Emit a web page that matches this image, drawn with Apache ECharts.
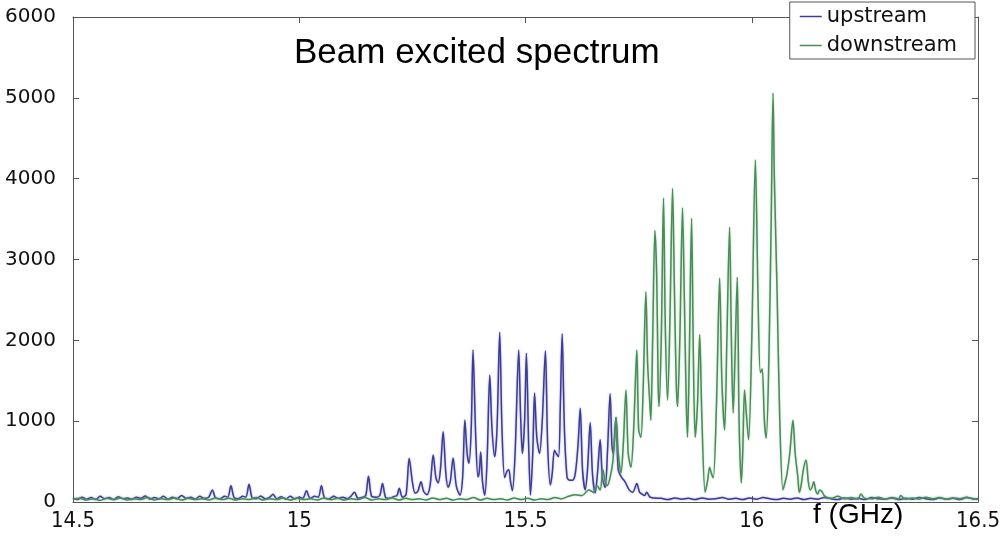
<!DOCTYPE html>
<html>
<head>
<meta charset="utf-8">
<script src="https://cdn.jsdelivr.net/npm/echarts@6/dist/echarts.min.js"></script>
<style>
html,body{margin:0;padding:0;background:#fff;}
#chart{width:1004px;height:537px;}
</style>
</head>
<body>
<div id="chart"></div>
<script>
// ---------- DATA ----------
const xTicks = [14.5, 15, 15.5, 16, 16.5];
const yTicks = [0, 1000, 2000, 3000, 4000, 5000, 6000];
const seriesNames = ['upstream', 'downstream'];

const upFreq = [
14.500,14.510,14.520,14.530,14.540,14.550,14.560,14.570,14.580,14.590,
14.600,14.610,14.620,14.630,14.640,14.650,14.660,14.670,14.680,14.690,
14.700,14.710,14.720,14.730,14.740,14.750,14.760,14.770,14.780,14.790,
14.800,14.808,14.815,14.825,14.835,14.842,14.849,14.856,14.865,14.875,
14.882,14.889,14.896,14.905,14.915,14.925,14.935,14.942,14.950,14.960,
14.970,14.980,14.990,15.000,15.008,15.016,15.024,15.034,15.042,15.049,
15.056,15.066,15.076,15.086,15.096,15.106,15.114,15.122,15.130,15.140,
15.147,15.153,15.160,15.170,15.178,15.184,15.191,15.200,15.210,15.216,
15.221,15.228,15.236,15.243,15.250,15.256,15.262,15.269,15.275,15.282,
15.289,15.296,15.302,15.307,15.312,15.318,15.324,15.329,15.334,15.340,
15.347,15.355,15.361,15.366,15.371,15.375,15.380,15.384,15.390,15.395,
15.398,15.401,15.405,15.410,15.415,15.421,15.426,15.432,15.437,15.443,
15.448,15.454,15.459,15.463,15.467,15.471,15.477,15.485,15.489,15.493,
15.498,15.502,15.507,15.511,15.516,15.520,15.525,15.531,15.537,15.544,
15.549,15.555,15.559,15.564,15.568,15.573,15.577,15.581,15.586,15.592,
15.598,15.604,15.610,15.616,15.621,15.626,15.632,15.637,15.643,15.648,
15.654,15.659,15.665,15.670,15.676,15.681,15.687,15.691,15.694,15.700,
15.705,15.713,15.720,15.729,15.737,15.746,15.752,15.757,15.763,15.768,
15.775,15.785,15.800,15.815,15.830,15.845,15.860,15.875,15.890,15.905,
15.920,15.935,15.950,15.965,15.980,15.995,16.010,16.025,16.040,16.055,
16.070,16.085,16.100,16.115,16.130,16.145,16.160,16.175,16.190,16.205,
16.220,16.235,16.250,16.265,16.280,16.295,16.310,16.325,16.340,16.355,
16.370,16.385,16.400,16.415,16.430,16.445,16.460,16.475,16.490,16.500
];
const upVal = [
50,30,60,35,55,30,70,40,55,30,
65,40,50,30,60,45,75,35,55,40,
70,35,60,40,80,45,60,35,70,45,
60,150,50,40,70,60,200,55,40,70,
60,220,50,40,75,40,60,95,40,65,
35,70,40,60,45,140,45,70,60,200,
50,40,70,45,60,40,70,120,45,60,
80,320,70,60,80,230,55,45,70,80,
170,60,90,540,250,110,130,250,130,90,
200,580,300,235,400,870,350,180,260,545,
200,85,300,1015,600,480,900,1880,800,310,
380,620,250,85,500,1570,900,560,900,2100,
900,300,380,400,250,140,600,1880,1100,600,
1000,1840,700,85,600,1350,800,600,1000,1870,
700,210,350,640,600,560,1200,2080,900,300,
270,270,350,700,1160,400,150,400,980,350,
110,350,770,300,180,600,1340,700,600,1050,
400,300,250,150,120,230,120,100,80,120,
60,50,45,30,50,35,45,30,50,35,
40,55,35,45,30,50,35,55,40,30,
45,35,50,30,45,35,55,40,30,50,
35,45,30,55,40,35,50,30,45,35,
55,40,30,50,35,45,30,55,40,35
];

const downFreq = [
14.500,14.515,14.530,14.545,14.560,14.575,14.590,14.605,14.620,14.635,
14.650,14.665,14.680,14.695,14.710,14.725,14.740,14.755,14.770,14.785,
14.800,14.815,14.830,14.845,14.860,14.875,14.890,14.905,14.920,14.935,
14.950,14.965,14.980,14.995,15.010,15.025,15.040,15.055,15.070,15.085,
15.100,15.115,15.130,15.145,15.160,15.175,15.190,15.205,15.220,15.235,
15.250,15.265,15.280,15.295,15.310,15.325,15.340,15.355,15.370,15.385,
15.400,15.415,15.430,15.445,15.460,15.475,15.490,15.505,15.520,15.535,
15.550,15.565,15.580,15.595,15.610,15.625,15.640,15.650,15.658,15.665,
15.671,15.676,15.680,15.686,15.693,15.700,15.705,15.711,15.716,15.722,
15.727,15.733,15.739,15.746,15.750,15.755,15.760,15.766,15.770,15.775,
15.777,15.781,15.786,15.790,15.793,15.795,15.800,15.805,15.809,15.814,
15.819,15.825,15.829,15.833,15.836,15.841,15.847,15.851,15.855,15.858,
15.862,15.867,15.871,15.875,15.880,15.885,15.890,15.897,15.902,15.907,
15.911,15.915,15.922,15.929,15.934,15.940,15.945,15.951,15.955,15.959,
15.963,15.968,15.972,15.977,15.980,15.984,15.988,15.993,16.000,16.008,
16.014,16.019,16.023,16.028,16.032,16.038,16.043,16.047,16.050,16.056,
16.062,16.069,16.074,16.078,16.084,16.091,16.096,16.102,16.105,16.109,
16.114,16.120,16.125,16.129,16.133,16.137,16.142,16.146,16.150,16.155,
16.160,16.165,16.175,16.190,16.205,16.220,16.235,16.241,16.250,16.265,
16.280,16.295,16.310,16.325,16.329,16.340,16.355,16.370,16.385,16.400,
16.415,16.430,16.445,16.460,16.475,16.490,16.500
];
const downVal = [
30,45,25,40,20,45,30,50,25,40,
30,55,25,40,30,50,25,45,30,40,
25,50,30,45,25,40,30,55,25,40,
30,50,25,45,30,40,25,50,30,45,
25,40,30,55,25,40,30,50,25,45,
30,40,25,50,30,45,25,40,30,55,
25,45,30,40,25,50,30,45,25,40,
30,55,40,70,90,80,150,120,200,150,
400,250,200,280,500,1040,600,360,700,1385,
600,430,900,1880,900,800,1400,2600,1700,1200,
1010,2000,3360,2780,1500,1180,2000,3760,2160,1260,
2200,3880,2660,1500,1180,2000,3640,2540,1300,800,
1800,3510,1800,800,1200,2070,1000,120,250,430,
350,300,1200,2770,1500,890,2000,3400,2000,1100,
1800,2780,1000,235,600,1385,1100,770,2000,4230,
2500,1600,1650,1000,790,1800,3500,5060,4000,2600,
1000,150,250,350,600,1010,600,300,120,200,
400,520,250,150,180,250,130,100,150,130,
80,60,45,70,40,55,35,100,45,40,
60,35,55,40,80,35,50,35,60,40,
55,35,50,40,60,35,45
];

// ---------- CHART ----------
const pairs = (fs, vs) => fs.map((f, i) => [f, vs[i]]);
const axisCol = '#555';
const chart = echarts.init(document.getElementById('chart'), null, {renderer: 'canvas'});
const baseX = {
  type: 'value', min: xTicks[0], max: xTicks[xTicks.length - 1], interval: 0.5,
  axisLine: {show: true, onZero: false, lineStyle: {color: axisCol, width: 1}},
  axisTick: {show: true, inside: true, length: 6, lineStyle: {color: axisCol}},
  splitLine: {show: false}
};
const baseY = {
  type: 'value', min: yTicks[0], max: yTicks[yTicks.length - 1], interval: 1000,
  axisLine: {show: true, onZero: false, lineStyle: {color: axisCol, width: 1}},
  axisTick: {show: true, inside: true, length: 6, lineStyle: {color: axisCol}},
  splitLine: {show: false}
};
chart.setOption({
  animation: false,
  backgroundColor: '#fff',
  title: {
    text: 'Beam excited spectrum', left: 289, top: 31,
    textStyle: {fontFamily: 'Liberation Sans, Arial', fontSize: 35, fontWeight: 'normal', color: '#000'}
  },
  legend: {
    data: seriesNames, orient: 'vertical', right: 29, top: 2,
    backgroundColor: '#fff', borderColor: '#555', borderWidth: 1,
    padding: [4, 18, 3, 10], itemGap: 8, itemWidth: 22, itemHeight: 1.5, icon: 'rect',
    textStyle: {fontFamily: 'DejaVu Sans, Liberation Sans, Arial', fontSize: 21, color: '#111'}
  },
  grid: {left: 73, right: 26, top: 17, bottom: 35, containLabel: false},
  xAxis: [
    Object.assign({}, baseX, {position: 'bottom',
      axisLabel: {show: true, margin: 8, color: '#111', fontSize: 22,
        fontFamily: 'Liberation Sans Narrow, DejaVu Sans Condensed, Liberation Sans, Arial',
        formatter: v => String(v)}}),
    Object.assign({}, baseX, {position: 'top', axisLabel: {show: false}})
  ],
  yAxis: [
    Object.assign({}, baseY, {position: 'left',
      axisLabel: {show: true, margin: 17, color: '#111', fontSize: 20,
        fontFamily: 'DejaVu Sans, Liberation Sans, Arial',
        formatter: v => String(v)}}),
    Object.assign({}, baseY, {position: 'right', axisLabel: {show: false}})
  ],
  graphic: [{
    type: 'text', left: 813, top: 501,
    style: {text: 'f (GHz)', fontFamily: 'Liberation Sans, Arial', fontSize: 28, fill: '#000'}
  }],
  series: [
    {name: seriesNames[0], type: 'line', xAxisIndex: 0, yAxisIndex: 0, showSymbol: false,
     symbol: 'none', smooth: 0.3, color: '#3c3c95',
     lineStyle: {width: 1.5, color: '#3c3c95', shadowColor: 'rgba(120,120,200,0.7)', shadowBlur: 2},
     data: pairs(upFreq, upVal), z: 2},
    {name: seriesNames[1], type: 'line', xAxisIndex: 0, yAxisIndex: 0, showSymbol: false,
     symbol: 'none', smooth: 0.3, color: '#4b8b5a',
     lineStyle: {width: 1.5, color: '#4b8b5a', shadowColor: 'rgba(120,190,130,0.7)', shadowBlur: 2},
     data: pairs(downFreq, downVal), z: 3}
  ]
});
</script>
</body>
</html>
